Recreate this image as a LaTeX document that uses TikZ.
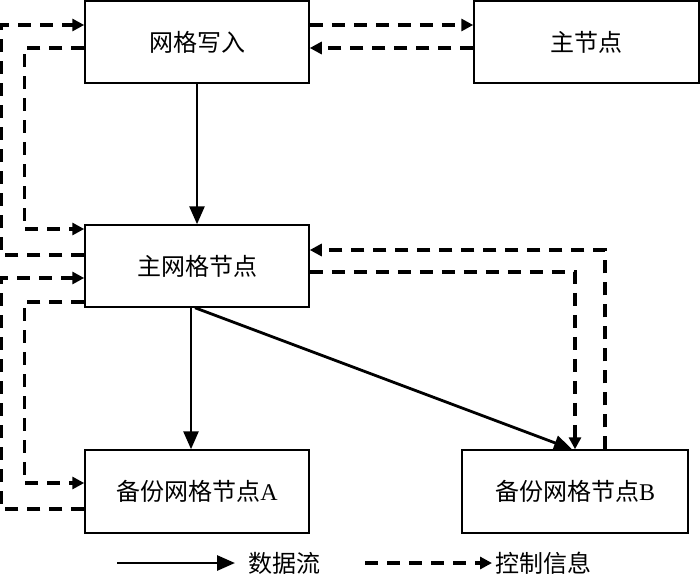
\documentclass[tikz,border=0pt]{standalone}
\usepackage{fontspec}
\setmainfont{Liberation Serif}
\newfontfamily\cjk{Noto Sans CJK SC}
\usetikzlibrary{arrows.meta}

\begin{document}
\begin{tikzpicture}[x=1pt,y=-1pt,
		box node/.style={draw,line width=1.5pt,minimum width=224pt,minimum height=82pt,inner sep=0pt,font=\fontsize{24}{28}\selectfont},
		data line/.style={line width=2.8pt,-{Triangle[length=18pt,width=15pt]}},
		ctrl line/.style={line width=3.5pt,dash pattern=on 13pt off 9pt,-{Triangle[length=12pt,width=12pt]}}
		]
		
		\useasboundingbox (0,0) rectangle (700,586);
		
		\node[box node] at (197,42) (write) {\cjk 网格写入};
		\node[box node,minimum width=225pt] at (586.5,42) (master) {\cjk 主节点};
		\node[box node] at (197,266) (primary) {\cjk 主网格节点};
		\node[box node,minimum height=83pt] at (197,491.5) (backA) {{\cjk 备份网格节点}A};
		\node[box node,minimum width=226pt,minimum height=83pt] at (575,491.5) (backB) {{\cjk 备份网格节点}B};
		
		% data flow
		\draw[data line] (write.south) -- (primary.north);
		\draw[data line] ([xshift=-6pt]primary.south) -- ([xshift=-6pt]backA.north);
		\draw[data line] ([xshift=-2pt]primary.south) -- ([xshift=-3pt]backB.north);
		
		% control messages
		\draw[ctrl line] ([yshift=17pt]write.east) -- ([yshift=17pt]master.west);
		\draw[ctrl line] ([yshift=-6pt]master.west) -- ([yshift=-6pt]write.east);
		\draw[ctrl line] ([yshift=11pt]primary.west) -- ++(-83,0) |- ([yshift=17pt]write.west);
		\draw[ctrl line] ([yshift=-6pt]write.west) -- ++(-60,0) |- ([yshift=37pt]primary.west);
		\draw[ctrl line] ([yshift=-17.5pt]backA.west) -- ++(-83,0) |- ([yshift=-12pt]primary.west);
		\draw[ctrl line] ([yshift=-36pt]primary.west) -- ++(-60,0) |- ([yshift=8.5pt]backA.west);
		\draw[ctrl line] ([xshift=30pt]backB.north) |- ([yshift=16pt]primary.east);
		\draw[ctrl line] ([yshift=-6pt]primary.east) -| (backB.north);
		
		% legend
		\coordinate (d1) at (117,563);
		\coordinate (d2) at (235,563);
		\coordinate (c1) at (365,563);
		\coordinate (c2) at (492,563);
		\draw[data line] (d1) -- (d2);
		\node[anchor=west,font=\fontsize{24}{28}\selectfont] at (245,563) (dtext) {\cjk 数据流};
		\draw[ctrl line] (c1) -- (c2);
		\node[anchor=west,font=\fontsize{24}{28}\selectfont] at (492,563) (ctext) {\cjk 控制信息};
		\end{tikzpicture}
\end{document}
